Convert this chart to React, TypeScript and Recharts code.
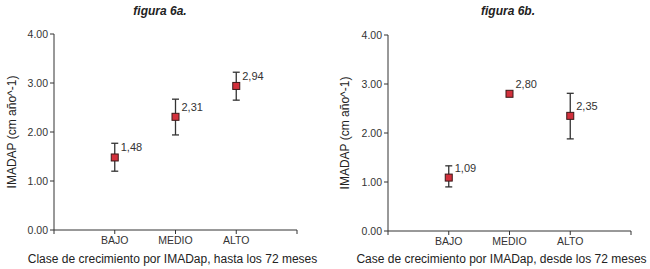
import { ScatterChart, Scatter, XAxis, YAxis, ErrorBar } from 'recharts';

// category positions on the numeric x axis (0..4, points at 1,2,3)
const categories = ['BAJO', 'MEDIO', 'ALTO'];
const catPos = [1, 2, 3];
const yTicks = [0, 1, 2, 3, 4];

// figura 6a: means and error bar bounds
const meansA = [1.48, 2.31, 2.94];
const lowA = [1.2, 1.94, 2.65];
const highA = [1.77, 2.67, 3.22];

// figura 6b (MEDIO has no visible spread)
const meansB = [1.09, 2.8, 2.35];
const lowB = [0.9, 2.8, 1.88];
const highB = [1.33, 2.8, 2.81];

const FONT = '"Liberation Sans", Arial, sans-serif';
const AXIS = '#333';

function build(means: number[], low: number[], high: number[]) {
  return means.map((m, i) => ({
    x: catPos[i],
    y: m,
    err: [m - low[i], high[i] - m],
  }));
}

function Marker(props: any) {
  const { cx, cy, payload } = props;
  if (cx == null || cy == null) return null;
  return (
    <g>
      <rect x={cx - 3.5} y={cy - 3.5} width={7} height={7} fill="#d2303c" stroke="#3a1818" strokeWidth={1} />
      <text x={cx + 6} y={cy - 6} fontSize={11} fill="#333" fontFamily={FONT}>
        {payload.y.toFixed(2).replace('.', ',')}
      </text>
    </g>
  );
}

function Panel({ data, xTitle, width, right, top, bottom, labelDx, titleDx }: any) {
  return (
    <ScatterChart width={width} height={269} margin={{ top, right, bottom: 0, left: 0 }}>
      <XAxis
        type="number"
        dataKey="x"
        domain={[0, 4]}
        ticks={[0, 1, 2, 3, 4]}
        tickFormatter={(v: number) => (v >= 1 && v <= 3 ? categories[v - 1] : '')}
        height={bottom}
        stroke={AXIS}
        tickSize={4}
        tickMargin={3}
        tick={{ fontSize: 10.5, fill: '#333', fontFamily: FONT }}
        label={{ value: xTitle, position: 'insideBottom', offset: 6, dx: titleDx, fontSize: 12, fill: '#222', fontFamily: FONT }}
      />
      <YAxis
        type="number"
        dataKey="y"
        domain={[0, 4]}
        ticks={yTicks}
        tickFormatter={(v: number) => v.toFixed(2)}
        width={54}
        stroke={AXIS}
        tickSize={4}
        tickMargin={2}
        tick={{ fontSize: 10.5, fill: '#333', fontFamily: FONT }}
        label={{ value: 'IMADAP (cm año^-1)', angle: -90, position: 'center', dx: labelDx, fontSize: 12, fill: '#222', fontFamily: FONT }}
      />
      <Scatter data={data} shape={<Marker />} isAnimationActive={false}>
        <ErrorBar dataKey="err" direction="y" width={3.5} stroke="#333" strokeWidth={1.3} isAnimationActive={false} />
      </Scatter>
    </ScatterChart>
  );
}

const titleStyle = {
  position: 'absolute' as const,
  top: 4,
  fontFamily: FONT,
  fontSize: 12,
  fontWeight: 'bold' as const,
  fontStyle: 'italic' as const,
  color: '#222',
  transform: 'translateX(-50%)',
  whiteSpace: 'nowrap' as const,
};

export default function App() {
  return (
    <div style={{ position: 'relative', width: 650, height: 269, background: '#fff', overflow: 'hidden' }}>
      <style>{'body{margin:0}'}</style>
      <div style={{ ...titleStyle, left: 160 }}>figura 6a.</div>
      <div style={{ ...titleStyle, left: 508 }}>figura 6b.</div>
      <div style={{ position: 'absolute', left: 0, top: 0 }}>
        <Panel
          data={build(meansA, lowA, highA)}
          xTitle="Clase de crecimiento por IMADap, hasta los 72 meses"
          width={325}
          right={28}
          top={34}
          bottom={39}
          labelDx={-15}
          titleDx={-3}
        />
      </div>
      <div style={{ position: 'absolute', left: 334, top: 0 }}>
        <Panel
          data={build(meansB, lowB, highB)}
          xTitle="Case de crecimiento por IMADap, desde los 72 meses"
          width={316}
          right={19}
          top={35}
          bottom={38}
          labelDx={-16}
          titleDx={-8}
        />
      </div>
    </div>
  );
}
